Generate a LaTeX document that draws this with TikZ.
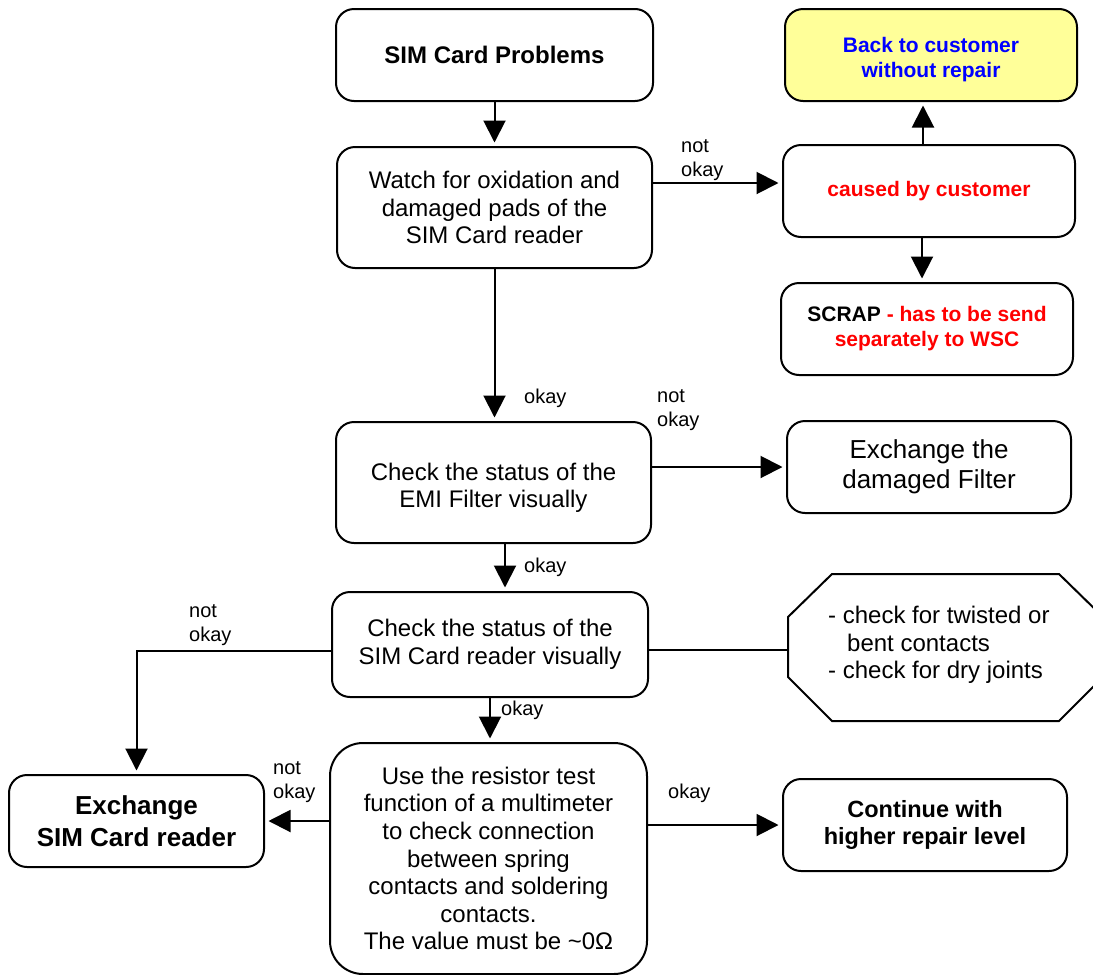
\documentclass[tikz,border=0pt]{standalone}
\usepackage{fontspec}
\setmainfont{Liberation Sans}
\usepackage{xcolor}
\usetikzlibrary{arrows.meta}
\definecolor{backyellow}{HTML}{FFFF99}
\definecolor{custblue}{HTML}{0000FF}
\definecolor{custred}{HTML}{FF0000}

\begin{document}
\begin{tikzpicture}[
		x=1pt, y=-1pt,
		box/.style={draw, line width=2pt, rounded corners=18pt, align=center, inner sep=0pt,
			font=\fontsize{24}{27.6}\selectfont},
		smallbold/.style={font=\fontsize{21}{25}\selectfont\bfseries},
		arr/.style={line width=2pt, shorten >=3.5pt, -{Triangle[length=22pt,width=22pt]}},
		lbl/.style={anchor=west, align=left, inner sep=0pt, font=\fontsize{20}{24}\selectfont}
	]
	\useasboundingbox (0,0) rectangle (1093,975);

	\node[box, minimum width=317pt, minimum height=92pt] (prob) at (494.5,55)
		{\textbf{SIM Card Problems}};
	\node[box, minimum width=315pt, minimum height=121pt] (watch) at (494.5,207.5)
		{Watch for oxidation and\\damaged pads of the\\SIM Card reader};
	\node[box, smallbold, fill=backyellow, text=custblue, minimum width=292pt, minimum height=92pt] (back) at (931,55)
		{\rule{0pt}{24pt}Back to customer\\without repair};
	\node[box, smallbold, text=custred, minimum width=292pt, minimum height=92pt] (cause) at (929,191)
		{caused by customer};
	\node[box, smallbold, minimum width=292pt, minimum height=92pt] (scrap) at (927,329)
		{SCRAP \textcolor{custred}{- has to be send}\\\textcolor{custred}{separately to WSC}};
	\node[box, minimum width=315pt, minimum height=121pt] (emi) at (493.5,482.5)
		{\rule{0pt}{28pt}Check the status of the\\EMI Filter visually};
	\node[box, font=\fontsize{26}{30}\selectfont, minimum width=284pt, minimum height=92pt] (filt) at (929,467)
		{Exchange the\\damaged Filter};
	\node[box, minimum width=316pt, minimum height=105pt] (simv) at (490,644.5)
		{Check the status of the\\SIM Card reader visually};
	\node[box, font=\fontsize{26}{31.5}\selectfont\bfseries, minimum width=255pt, minimum height=92pt] (exch) at (136.5,821)
		{Exchange\\SIM Card reader};
	\node[box, rounded corners=33pt, minimum width=317pt, minimum height=231pt] (resist) at (488.5,858.5)
		{Use the resistor test\\function of a multimeter\\to check connection\\between spring\\contacts and soldering\\contacts.\\The value must be \textasciitilde0Ω};
	\node[box, font=\fontsize{23.5}{26.7}\selectfont\bfseries, minimum width=284pt, minimum height=92pt] (cont) at (925,825)
		{Continue with\\higher repair level};

	\draw[line width=2pt]
		(788,617) -- (832,574) -- (1059,574) -- (1103,617)
		-- (1103,677) -- (1059,721) -- (832,721) -- (788,677) -- cycle;
	\node[anchor=west, align=left, inner sep=0pt, font=\fontsize{24}{27.6}\selectfont] (chk) at (828,645)
		{- check for twisted or\\\hspace*{19pt}bent contacts\\- check for dry joints};
	\coordinate (chkw) at (788,650);

	\draw[arr] (prob.south) -- (prob.south |- watch.north);
	\draw[arr] ([yshift=24.5pt]watch.east) -- ([yshift=24.5pt]watch.east -| cause.west);
	\draw[arr] ([xshift=-6pt]cause.north) -- ([xshift=-6pt]cause.north |- back.south);
	\draw[arr] ([xshift=-7pt]cause.south) -- ([xshift=-7pt]cause.south |- scrap.north);
	\draw[arr] (watch.south) -- (watch.south |- emi.north);
	\draw[arr] (emi.east |- filt.west) -- (filt.west);
	\draw[arr] ([xshift=11.5pt]emi.south) -- ([xshift=11.5pt]emi.south |- simv.north);
	\draw[arr] ([yshift=-6.5pt]simv.west) -| (exch.north);
	\draw[line width=2pt] (chkw -| simv.east) -- (chkw);
	\draw[arr] (simv.south) -- (simv.south |- resist.north);
	\draw[arr] (resist.west |- exch.east) -- (exch.east);
	\draw[arr] (resist.east |- cont.west) -- (cont.west);

	\node[lbl] (nok1) at (681,160) {not\\okay};
	\node[lbl] (ok1) at (524,398) {okay};
	\node[lbl] (nok2) at (657,410) {not\\okay};
	\node[lbl] (ok2) at (524,567) {okay};
	\node[lbl] (nok3) at (189,625) {not\\okay};
	\node[lbl] (ok3) at (501,710) {okay};
	\node[lbl] (nok4) at (273,782) {not\\okay};
	\node[lbl] (ok4) at (668,793) {okay};
\end{tikzpicture}
\end{document}
